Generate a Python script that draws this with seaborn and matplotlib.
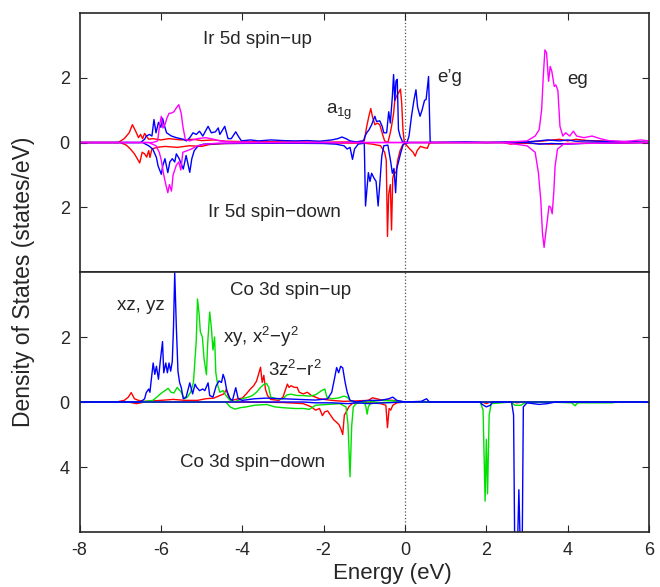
import numpy as np
import pandas as pd
import seaborn as sns
import matplotlib
matplotlib.use("Agg")
import matplotlib.pyplot as plt

# (energy in eV, DOS in states/eV); spin-down values negative
ir_red_up = [(-8, 0), (-7.05, 0), (-6.9, 0.12), (-6.78, 0.3), (-6.70, 0.55), (-6.62, 0.35),
             (-6.55, 0.15), (-6.50, 0.25), (-6.45, 0.12), (-6.40, 0.28), (-6.30, 0.1), (-6.2, 0.12),
             (-6.0, 0.08), (-5.8, 0.12), (-5.5, 0.08), (-5.2, 0.1), (-5.0, 0.06), (-4.7, 0.08),
             (-4.4, 0.04), (-4.0, 0.03), (-3.0, 0.02), (-2.0, 0.01), (-1.2, 0.02), (-1.0, 0.05),
             (-0.94, 0.5), (-0.88, 0.85), (-0.84, 1.05), (-0.80, 0.8), (-0.74, 0.55), (-0.68, 0.6),
             (-0.62, 0.55), (-0.55, 0.25), (-0.50, 0.05), (-0.42, 0.0), (-0.36, 0.3), (-0.33, 0.5),
             (-0.28, 0.9), (-0.25, 1.3), (-0.20, 1.45), (-0.15, 1.55), (-0.11, 1.65), (-0.08, 1.2),
             (-0.05, 0.4), (-0.02, 0.05), (0.0, 0), (2.4, 0), (2.6, 0.03), (3.0, 0.02), (3.4, 0.05),
             (3.8, 0.1), (4.0, 0.05), (4.2, 0.1), (4.5, 0.06), (4.8, 0.05), (5.2, 0.03), (5.6, 0.02),
             (6.0, 0)]
ir_red_dn = [(-8, 0), (-7.0, 0), (-6.85, -0.08), (-6.75, -0.2), (-6.65, -0.35), (-6.58, -0.5),
             (-6.52, -0.63), (-6.46, -0.3), (-6.40, -0.35), (-6.35, -0.45), (-6.30, -0.25),
             (-6.27, -0.46), (-6.22, -0.2), (-6.1, -0.15), (-5.9, -0.12), (-5.6, -0.15), (-5.3, -0.1),
             (-5.0, -0.12), (-4.8, -0.06), (-4.4, -0.03), (-3.0, -0.01), (-1.0, -0.02), (-0.8, -0.05),
             (-0.6, -0.1), (-0.50, -0.3), (-0.46, -0.55), (-0.43, -2.9), (-0.40, -1.6), (-0.36, -1.3),
             (-0.33, -2.7), (-0.30, -1.1), (-0.26, -0.9), (-0.22, -0.95), (-0.18, -0.55),
             (-0.12, -0.25), (-0.06, -0.08), (0.0, -0.02), (0.05, -0.1), (0.12, -0.2), (0.2, -0.3),
             (0.25, -0.42), (0.3, -0.25), (0.38, -0.12), (0.45, -0.15), (0.55, -0.18), (0.6, -0.02),
             (0.7, 0), (2.4, 0), (2.6, -0.05), (2.8, -0.02), (3.2, -0.03), (3.6, -0.05), (4.0, -0.03),
             (4.5, -0.02), (5.2, -0.02), (6.0, 0)]
ir_blue_up = [(-8, 0), (-6.5, 0), (-6.40, 0.1), (-6.36, 0.2), (-6.28, 0.25), (-6.22, 0.2),
              (-6.17, 0.71), (-6.12, 0.3), (-6.06, 0.62), (-6.0, 0.47), (-5.96, 0.75), (-5.92, 0.55),
              (-5.86, 0.3), (-5.80, 0.25), (-5.74, 0.2), (-5.62, 0.15), (-5.45, 0.1), (-5.37, 0.05),
              (-5.29, 0.15), (-5.21, 0.3), (-5.13, 0.25), (-5.05, 0.35), (-4.97, 0.2), (-4.84, 0.5),
              (-4.76, 0.3), (-4.66, 0.33), (-4.59, 0.45), (-4.55, 0.25), (-4.43, 0.5), (-4.35, 0.12),
              (-4.27, 0.12), (-4.16, 0.33), (-4.10, 0.2), (-4.02, 0.05), (-3.8, 0.08), (-3.6, 0.05),
              (-3.3, 0.08), (-3.0, 0.06), (-2.7, 0.05), (-2.4, 0.06), (-2.1, 0.04), (-1.8, 0.08),
              (-1.65, 0.12), (-1.55, 0.17), (-1.45, 0.12), (-1.35, 0.05), (-1.2, 0.02), (-1.02, 0.05),
              (-0.98, 0.2), (-0.94, 0.3), (-0.88, 0.4), (-0.82, 0.55), (-0.76, 0.75), (-0.74, 0.81),
              (-0.70, 0.65), (-0.62, 0.67), (-0.56, 0.5), (-0.52, 0.3), (-0.45, 0.3), (-0.40, 0.95),
              (-0.36, 0.6), (-0.31, 1.42), (-0.28, 2.1), (-0.25, 1.3), (-0.22, 1.9), (-0.19, 1.95),
              (-0.16, 0.4), (-0.12, 0.2), (-0.06, 0.02), (0.05, 0.0), (0.1, 0.2), (0.16, 0.81),
              (0.22, 1.3), (0.27, 1.63), (0.31, 1.1), (0.37, 0.81), (0.42, 1.0), (0.48, 1.3),
              (0.52, 1.33), (0.58, 2.04), (0.62, 0.02), (0.7, 0), (1.5, 0.02), (2.0, 0), (2.6, 0.02),
              (3.0, 0.02), (3.3, 0.05), (3.5, 0.08), (3.8, 0.05), (4.0, 0.08), (4.2, 0.04), (4.5, 0.05),
              (5.0, 0.03), (5.5, 0.03), (6.0, 0)]
ir_blue_dn = [(-8, 0), (-6.45, 0), (-6.3, -0.1), (-6.2, -0.2), (-6.11, -0.46), (-6.07, -0.72),
              (-5.99, -0.98), (-5.95, -0.7), (-5.90, -0.5), (-5.83, -0.93), (-5.78, -0.6),
              (-5.72, -0.5), (-5.66, -0.6), (-5.62, -0.35), (-5.55, -0.5), (-5.45, -0.82),
              (-5.38, -0.4), (-5.29, -0.92), (-5.24, -0.5), (-5.18, -0.25), (-5.08, -0.1),
              (-4.95, -0.05), (-4.5, -0.03), (-3.0, -0.02), (-2.0, -0.03), (-1.7, -0.05), (-1.5, -0.1),
              (-1.42, -0.2), (-1.35, -0.15), (-1.29, -0.52), (-1.24, -0.2), (-1.15, -0.05),
              (-1.0, -0.02), (-0.97, -1.96), (-0.90, -0.93), (-0.86, -1.2), (-0.82, -0.95),
              (-0.76, -1.1), (-0.71, -1.2), (-0.66, -1.96), (-0.62, -1.3), (-0.57, -0.42),
              (-0.52, -0.1), (-0.42, -0.08), (-0.35, -0.6), (-0.31, -0.95), (-0.27, -0.8),
              (-0.23, -1.55), (-0.20, -0.8), (-0.16, -0.6), (-0.10, -0.3), (-0.04, -0.05), (0.1, 0),
              (3.0, 0), (3.3, -0.05), (3.6, -0.03), (4.0, -0.05), (4.5, -0.02), (6.0, 0)]
ir_mag_up = [(-8, 0), (-6.2, 0), (-6.08, 0.05), (-6.03, 0.55), (-5.99, 0.81), (-5.95, 0.45),
             (-5.90, 0.55), (-5.85, 0.76), (-5.80, 0.9), (-5.74, 0.91), (-5.68, 0.95), (-5.62, 1.07),
             (-5.56, 1.17), (-5.50, 0.9), (-5.46, 0.5), (-5.40, 0.1), (-5.3, 0.05), (-5.1, 0.12),
             (-4.9, 0.15), (-4.7, 0.1), (-4.55, 0.05), (-4.3, 0.02), (-3.0, 0), (2.4, 0), (2.6, 0.02),
             (3.0, 0.05), (3.2, 0.2), (3.30, 0.4), (3.36, 1.02), (3.40, 2.04), (3.44, 2.86),
             (3.48, 2.78), (3.53, 1.89), (3.57, 2.35), (3.61, 2.2), (3.67, 1.73), (3.71, 1.78),
             (3.76, 1.6), (3.81, 0.5), (3.88, 0.2), (3.95, 0.3), (4.05, 0.2), (4.14, 0.35),
             (4.22, 0.2), (4.4, 0.15), (4.6, 0.2), (4.8, 0.12), (5.0, 0.06), (5.4, 0.03), (5.8, 0.08),
             (6.0, 0.05)]
ir_mag_dn = [(-8, 0), (-6.3, 0), (-6.12, -0.1), (-6.04, -0.3), (-5.99, -0.55), (-5.93, -1.0),
             (-5.88, -1.29), (-5.83, -1.55), (-5.79, -1.3), (-5.74, -1.5), (-5.70, -1.0),
             (-5.62, -0.7), (-5.56, -0.6), (-5.51, -0.85), (-5.46, -0.3), (-5.35, -0.25),
             (-5.25, -0.2), (-5.1, -0.1), (-4.9, -0.05), (-4.6, -0.02), (-3.0, 0), (2.4, 0),
             (2.7, -0.05), (3.0, -0.1), (3.2, -0.3), (3.28, -0.93), (3.34, -1.8), (3.38, -2.8),
             (3.42, -3.24), (3.46, -2.8), (3.50, -2.4), (3.54, -1.96), (3.58, -2.0), (3.62, -2.2),
             (3.66, -1.5), (3.69, -0.73), (3.75, -0.2), (3.9, -0.05), (4.3, -0.03), (6.0, 0)]

co_red_up = [(-8, 0), (-7.1, 0), (-6.9, 0.05), (-6.8, 0.15), (-6.73, 0.29), (-6.65, 0.1),
             (-6.55, 0.05), (-6.4, 0.02), (-6.0, 0.05), (-5.7, 0.08), (-5.4, 0.05), (-5.1, 0.05),
             (-4.9, 0.1), (-4.7, 0.12), (-4.55, 0.2), (-4.45, 0.25), (-4.39, 0.39), (-4.33, 0.12),
             (-4.25, 0.05), (-4.1, 0.1), (-4.0, 0.12), (-3.9, 0.25), (-3.8, 0.4), (-3.72, 0.5),
             (-3.65, 0.64), (-3.60, 0.85), (-3.55, 1.07), (-3.51, 0.6), (-3.47, 0.82), (-3.43, 0.4),
             (-3.38, 0.2), (-3.3, 0.08), (-3.1, 0.05), (-3.0, 0.15), (-2.89, 0.55), (-2.85, 0.45),
             (-2.8, 0.5), (-2.72, 0.45), (-2.65, 0.45), (-2.6, 0.3), (-2.5, 0.25), (-2.4, 0.3),
             (-2.3, 0.2), (-2.1, 0.1), (-1.8, 0.05), (-1.5, 0.02), (-0.9, 0.05), (-0.8, 0.13),
             (-0.7, 0.1), (-0.6, 0.07), (-0.3, 0.05), (0.0, 0), (6.0, 0)]
co_red_dn = [(-8, 0), (-6.8, 0), (-6.6, -0.1), (-6.4, 0), (-4.0, 0), (-3.0, -0.03), (-2.5, -0.1),
             (-2.3, -0.3), (-2.2, -0.5), (-2.1, -0.4), (-2.03, -0.84), (-1.97, -0.6), (-1.9, -0.55),
             (-1.82, -0.85), (-1.75, -1.1), (-1.68, -1.25), (-1.62, -1.4), (-1.57, -1.69),
             (-1.53, -2.0), (-1.49, -0.8), (-1.44, -0.6), (-1.38, -0.3), (-1.3, -0.1), (-1.1, 0),
             (-0.6, -0.1), (-0.47, -0.2), (-0.43, -1.58), (-0.39, -0.4), (-0.35, -0.5), (-0.3, -0.2),
             (-0.2, -0.05), (0.0, 0), (1.9, 0), (2.0, -0.1), (2.1, 0), (2.65, 0), (2.75, -0.05),
             (2.9, 0), (6.0, 0)]
co_green_up = [(-8, 0), (-6.5, 0), (-6.2, 0.05), (-6.1, 0.15), (-6.03, 0.23), (-5.96, 0.3),
               (-5.9, 0.35), (-5.82, 0.42), (-5.75, 0.3), (-5.68, 0.28), (-5.6, 0.45), (-5.5, 0.3),
               (-5.42, 0.1), (-5.35, 0.15), (-5.27, 0.3), (-5.2, 0.6), (-5.17, 1.15), (-5.13, 1.9),
               (-5.10, 3.17), (-5.06, 2.7), (-5.03, 2.16), (-4.98, 2.0), (-4.94, 1.34), (-4.88, 0.84),
               (-4.85, 1.8), (-4.80, 2.77), (-4.76, 2.3), (-4.72, 1.6), (-4.68, 2.0), (-4.65, 0.9),
               (-4.6, 0.5), (-4.55, 0.3), (-4.47, 0.35), (-4.4, 0.2), (-4.3, 0.05), (-4.2, 0.0),
               (-4.0, 0.1), (-3.85, 0.15), (-3.75, 0.2), (-3.65, 0.3), (-3.55, 0.45), (-3.47, 0.54),
               (-3.40, 0.57), (-3.35, 0.45), (-3.3, 0.15), (-3.15, 0.1), (-3.0, 0.1), (-2.9, 0.22),
               (-2.8, 0.24), (-2.65, 0.2), (-2.5, 0.2), (-2.35, 0.18), (-2.2, 0.22), (-2.05, 0.35),
               (-1.97, 0.4), (-1.92, 0.15), (-1.8, 0.1), (-1.65, 0.12), (-1.5, 0.18), (-1.42, 0.15),
               (-1.35, 0.05), (-1.25, 0), (-0.9, 0), (-0.6, 0.05), (-0.3, 0.04), (0.0, 0), (6.0, 0)]
co_green_dn = [(-8, 0), (-4.4, 0), (-4.3, -0.3), (-4.18, -0.44), (-4.05, -0.35), (-3.9, -0.3),
               (-3.7, -0.2), (-3.4, -0.15), (-3.2, -0.3), (-3.0, -0.35), (-2.7, -0.4), (-2.5, -0.4),
               (-2.35, -0.45), (-2.2, -0.2), (-1.9, -0.15), (-1.6, -0.1), (-1.45, -0.3), (-1.4, -1.4),
               (-1.35, -4.6), (-1.31, -1.5), (-1.27, -0.3), (-1.2, -0.1), (-1.0, 0), (-0.96, -0.3),
               (-0.93, -0.75), (-0.9, -0.3), (-0.85, -0.1), (-0.7, -0.05), (0.0, 0), (1.85, 0),
               (1.92, -0.5), (1.97, -6.1), (2.0, -2.3), (2.03, -5.65), (2.07, -0.8), (2.12, -0.1),
               (2.6, 0), (2.7, -0.2), (2.85, -0.2), (2.95, -0.05), (3.5, 0), (4.1, -0.05),
               (4.18, -0.23), (4.25, -0.05), (4.6, -0.05), (5.1, -0.05), (5.2, 0), (6.0, 0)]
co_blue_up = [(-8, 0), (-6.5, 0), (-6.4, 0.1), (-6.36, 0.29), (-6.3, 0.4), (-6.27, 0.3),
              (-6.19, 1.2), (-6.15, 0.85), (-6.11, 1.1), (-6.06, 0.7), (-6.02, 1.2), (-5.96, 1.86),
              (-5.93, 0.9), (-5.88, 1.2), (-5.84, 0.9), (-5.80, 1.2), (-5.76, 0.95), (-5.72, 1.25),
              (-5.69, 2.3), (-5.66, 3.98), (-5.62, 2.3), (-5.58, 0.94), (-5.54, 0.6), (-5.50, 0.45),
              (-5.45, 0.1), (-5.38, 0.15), (-5.29, 0.59), (-5.22, 0.25), (-5.16, 0.55), (-5.12, 0.45),
              (-5.05, 0.35), (-4.97, 0.4), (-4.92, 0.35), (-4.84, 0.59), (-4.8, 0.2), (-4.72, 0.15),
              (-4.64, 0.5), (-4.57, 0.65), (-4.51, 0.6), (-4.47, 0.85), (-4.43, 0.7), (-4.38, 0.35),
              (-4.3, 0.1), (-4.24, 0.05), (-4.16, 0.44), (-4.1, 0.1), (-4.0, 0.05), (-3.7, 0.1),
              (-3.4, 0.12), (-3.0, 0.1), (-2.6, 0.08), (-2.2, 0.06), (-1.9, 0.1), (-1.8, 0.3),
              (-1.72, 0.8), (-1.68, 1.06), (-1.63, 0.9), (-1.58, 1.1), (-1.53, 1.05), (-1.47, 0.6),
              (-1.42, 0.3), (-1.35, 0.05), (-1.2, 0), (-0.9, 0.05), (-0.6, 0.05), (-0.4, 0.1),
              (-0.3, 0.15), (-0.2, 0.05), (0.0, 0), (0.4, 0.02), (0.53, 0.1), (0.6, 0), (6.0, 0)]
co_blue_dn = [(-8, 0), (-2.5, 0), (-2.2, -0.05), (-1.8, -0.05), (-1.4, -0.1), (-1.2, -0.05),
              (-0.9, -0.1), (-0.5, -0.05), (0.0, 0), (1.85, 0), (1.9, -0.15), (2.0, -0.3),
              (2.1, -0.2), (2.15, 0), (2.62, 0), (2.67, -0.8), (2.70, -9.5), (2.76, -9.5),
              (2.80, -5.4), (2.84, -9.5), (2.88, -9.5), (2.91, -0.3), (3.0, -0.05), (3.3, -0.15),
              (3.5, -0.1), (3.7, 0), (6.0, 0)]

top_curves = [(ir_red_up, "#ff0000"), (ir_red_dn, "#ff0000"),
              (ir_blue_up, "#0000ff"), (ir_blue_dn, "#0000ff"),
              (ir_mag_up, "#ff00ff"), (ir_mag_dn, "#ff00ff")]
bot_curves = [(co_red_up, "#ff0000"), (co_red_dn, "#ff0000"),
              (co_green_up, "#00e000"), (co_green_dn, "#00e000"),
              (co_blue_up, "#0000ff"), (co_blue_dn, "#0000ff")]

sns.set_style("ticks", {"xtick.direction": "in", "ytick.direction": "in"})
plt.rcParams['font.family'] = ['Liberation Sans', 'DejaVu Sans']
plt.rcParams['mathtext.default'] = 'regular'

fig = plt.figure(figsize=(6.6, 5.87), dpi=100)
ax_top = fig.add_axes([0.1205, 0.5366, 0.8629, 0.4412])
ax_bot = fig.add_axes([0.1205, 0.0937, 0.8629, 0.4429])


def draw_curves(ax, curves):
    for pts, col in curves:
        df = pd.DataFrame(pts, columns=["energy", "dos"])
        sns.lineplot(data=df, x="energy", y="dos", ax=ax, color=col, linewidth=1.0,
                     estimator=None, errorbar=None, sort=False)


draw_curves(ax_top, top_curves)
draw_curves(ax_bot, bot_curves)

# Co spin-down drawn at half scale below zero
ax_bot.set_yscale("function", functions=(lambda y: np.where(y >= 0, y, y / 2.0),
                                         lambda y: np.where(y >= 0, y, y * 2.0)))

for ax in (ax_top, ax_bot):
    ax.axvline(0, color="#555555", linestyle=":", linewidth=0.9, zorder=0)
    ax.set_xlim(-8, 6)
    ax.set_xlabel("")
    ax.set_ylabel("")
    ax.tick_params(direction="in", length=5, width=0.8, labelsize=13, pad=7,
                   left=True, right=True)
    for sp in ax.spines.values():
        sp.set_linewidth(1.2)
        sp.set_visible(True)

ax_top.set_ylim(-4, 4)
ax_top.set_yticks([-2, 0, 2])
ax_top.set_yticklabels(["2", "0", "2"])
ax_top.set_xticks([-6, -4, -2, 0, 2, 4])
ax_top.tick_params(axis="x", top=True, bottom=False, labelbottom=False)

ax_bot.set_ylim(-8, 4)
ax_bot.set_yticks([-4, 0, 2])
ax_bot.set_yticklabels(["4", "0", "2"])
ax_bot.set_xticks([-8, -6, -4, -2, 0, 2, 4, 6])
ax_bot.set_xticklabels(["-8", "-6", "-4", "-2", "0", "2", "4", "6"])
ax_bot.tick_params(axis="x", top=False, bottom=True)

# annotations
lab = dict(ha="left", va="center", fontsize=13.5)
ax_top.text(-4.97, 3.17, "Ir 5d spin\u2212up", **lab)
ax_top.text(-4.85, -2.15, "Ir 5d spin\u2212down", **lab)
ax_top.text(-1.95, 0.95, "a$_{1g}$", **lab)
ax_top.text(0.79, 2.0, "e\u2019g", **lab)
ax_top.text(4.0, 1.95, "eg", **lab)

ax_bot.text(-4.31, 3.42, "Co 3d spin\u2212up", **lab)
ax_bot.text(-7.07, 2.97, "xz, yz", **lab)
ax_bot.text(-4.48, 2.0, "xy, x$^2$\u2212y$^2$", **lab)
ax_bot.text(-3.37, 1.0, "3z$^2$\u2212r$^2$", **lab)
ax_bot.text(-5.54, -3.7, "Co 3d spin\u2212down", **lab)

fig.text(0.035, 0.52, "Density of States (states/eV)", rotation=90,
         ha="center", va="center", fontsize=16.5)
fig.text(0.594, 0.005, "Energy (eV)", ha="center", va="bottom", fontsize=16)

fig.savefig("out.png", dpi=100)
